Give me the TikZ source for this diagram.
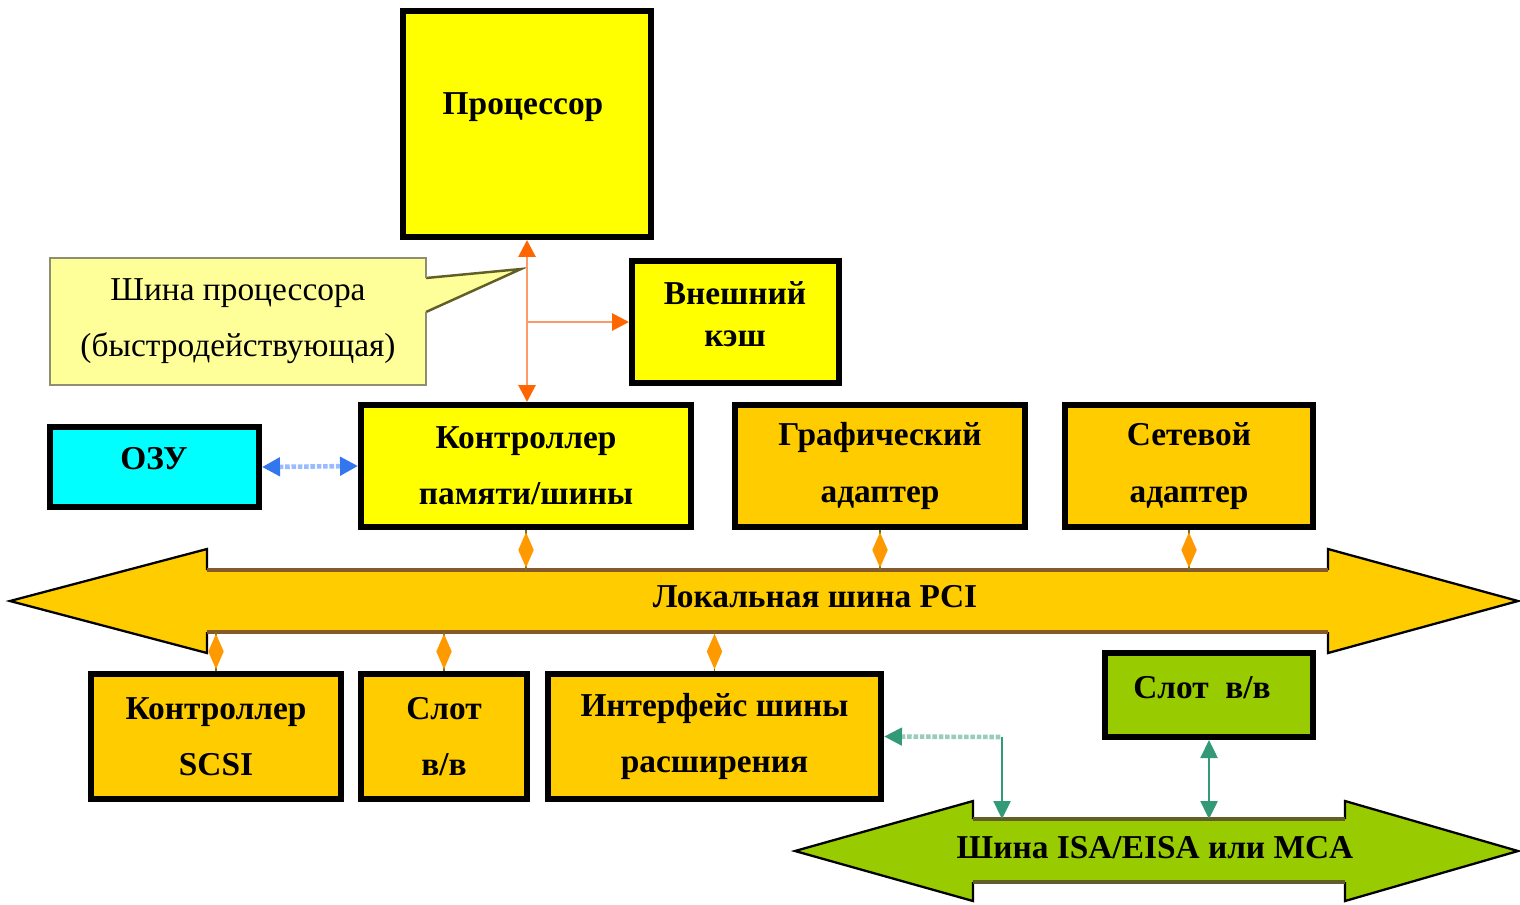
\documentclass[tikz,border=0pt]{standalone}
\usepackage{fontspec}
\setmainfont{Liberation Serif}
\usetikzlibrary{shapes,arrows.meta,positioning,calc}
\tikzset{>=latex}
\definecolor{cpuyellow}{HTML}{FFFF00}
\definecolor{devorange}{HTML}{FFCC00}
\definecolor{ramcyan}{HTML}{00FFFF}
\definecolor{notepale}{HTML}{FFFF99}
\definecolor{isagreen}{HTML}{99CC00}
\definecolor{cpuline}{HTML}{FF9966}
\definecolor{cpuhead}{HTML}{FF6600}
\definecolor{tapfill}{HTML}{FF9900}
\definecolor{ramline}{HTML}{99BBFF}
\definecolor{ramhead}{HTML}{3377EE}
\definecolor{isaline}{HTML}{339977}
\definecolor{isadots}{HTML}{99CCBB}
\tikzset{
  blk/.style={draw=black, line width=0.12cm, fill=#1, align=center, inner sep=0pt,
    font=\bfseries\fontsize{19}{32}\selectfont},
  blk/.default=cpuyellow,
  txt/.style={align=center, inner sep=0pt, font=\bfseries\fontsize{19}{32}\selectfont},
  cputip/.tip={Triangle[length=0.34cm,width=0.34cm,color=cpuhead]},
  ramtip/.tip={Triangle[length=0.36cm,width=0.36cm,color=ramhead]},
  isatip/.tip={Triangle[length=0.36cm,width=0.34cm,color=isaline]},
  cpulink/.style={draw=cpuline, line width=1.6pt},
  ramlink/.style={draw=ramline, line width=2.6pt, densely dotted},
  isalink/.style={draw=isaline, line width=1.4pt},
  isadot/.style={draw=isadots, line width=2.6pt, densely dotted},
  tap/.style={draw=olive!80!black, line width=0.8pt},
  tapmark/.style={diamond, fill=tapfill, inner sep=0pt, aspect=0.45,
    minimum width=0.32cm, minimum height=0.72cm},
  busedge/.style={draw=black, line width=1.3pt, line join=miter},
}
\begin{document}
\begin{tikzpicture}[x=0.02cm,y=-0.02cm]
  \useasboundingbox (0,0) rectangle (1520,904);
  \node[blk, minimum width=4.96cm, minimum height=4.52cm] (proc) at (527,124) {};
  \node[txt] (proclbl) at (523,107) {Процессор};
  \node[blk, minimum width=4.14cm, minimum height=2.44cm] (cache) at (735.5,322) {};
  \node[txt] (cachelbl) at (735,314) {Внешний\\[-8pt]кэш};
  \fill[notepale] (50,258) -- (426,258) -- (426,278) -- (521,269) -- (426,312) -- (426,385) -- (50,385) -- cycle;
  \draw[olive!60!black, line width=1.4pt] (426,278) -- (521,269) -- (426,312);
  \draw[gray!80!olive, line width=1.6pt] (426,278) -- (426,258) -- (50,258) -- (50,385) -- (426,385) -- (426,312);
  \node[txt, font=\fontsize{19}{32}\selectfont] (note) at (238,321) {Шина процессора\\(быстродействующая)};
  \node[blk=ramcyan, minimum width=4.18cm, minimum height=1.6cm] (ram) at (154.5,467) {};
  \node[txt] (ramlbl) at (154,459) {ОЗУ};
  \node[blk, minimum width=6.6cm, minimum height=2.44cm] (ctrl) at (526,466) {Контроллер\\памяти/шины};
  \node[blk=devorange, minimum width=5.8cm, minimum height=2.44cm] (gfx) at (880,466) {Графический\\адаптер};
  \node[blk=devorange, minimum width=4.96cm, minimum height=2.44cm] (net) at (1189,466) {Сетевой\\адаптер};
  \node[blk=devorange, minimum width=5.0cm, minimum height=2.5cm] (scsi) at (216,736.5) {Контроллер\\SCSI};
  \node[blk=devorange, minimum width=3.32cm, minimum height=2.5cm] (slot) at (444,736.5) {Слот\\в/в};
  \node[blk=devorange, minimum width=6.66cm, minimum height=2.5cm] (expif) at (714.5,736.5) {Интерфейс шины\\расширения};
  \node[blk=isagreen, minimum width=4.16cm, minimum height=1.68cm] (isaslot) at (1209,695) {};
  \node[txt] (isaslotlbl) at (1202,688) {Слот~~в/в};

  \fill[devorange] (10,601) -- (207,549) -- (207,570) -- (1328,570) -- (1328,549) -- (1518,601)
    -- (1328,653) -- (1328,632) -- (207,632) -- (207,653) -- cycle;
  \draw[busedge] (207,570) -- (207,549) -- (10,601) -- (207,653) -- (207,632);
  \draw[busedge] (1328,570) -- (1328,549) -- (1518,601) -- (1328,653) -- (1328,632);
  \draw[brown!70!black, line width=1.8pt] (207,570) -- (1328,570) (207,632) -- (1328,632);
  \coordinate (pcitop) at (0,570);
  \coordinate (pcibot) at (0,632);
  \node[txt] (pcilbl) at (815,597) {Локальная шина PCI};

  \fill[isagreen] (795,851) -- (973,801) -- (973,819) -- (1345,819) -- (1345,801) -- (1518,851)
    -- (1345,901) -- (1345,882) -- (973,882) -- (973,901) -- cycle;
  \draw[busedge] (973,819) -- (973,801) -- (795,851) -- (973,901) -- (973,882);
  \draw[busedge] (1345,819) -- (1345,801) -- (1518,851) -- (1345,901) -- (1345,882);
  \draw[olive!60!black, line width=1.8pt] (973,819) -- (1345,819) (973,882) -- (1345,882);
  \coordinate (isatop) at (0,819);
  \node[txt] (isalbl) at (1155,848) {Шина ISA/EISA или MCA};

  \draw[cpulink, cputip-cputip] (proc.south) -- (proc.south |- ctrl.north);
  \coordinate (branch) at (proc.south |- cache.west);
  \draw[cpulink, -cputip] (branch) -- (cache.west);
  \draw[ramlink, ramtip-ramtip] (ram.east) -- (ctrl.west);
  \foreach \n in {ctrl,gfx,net}
    \draw[tap] (\n.south) -- (\n.south |- pcitop) node[tapmark, midway] (\n-tap) {};
  \foreach \n in {scsi,slot,expif}
    \draw[tap] (\n.north) -- (\n.north |- pcibot) node[tapmark, midway] (\n-tap) {};
  \draw[isadot, isatip-] (expif.east) -- (1002,737) coordinate (elbow);
  \draw[isalink, -isatip] (elbow) -- (elbow |- isatop);
  \draw[isalink, isatip-isatip] (isaslot.south) -- (isaslot.south |- isatop);
\end{tikzpicture}
\end{document}
